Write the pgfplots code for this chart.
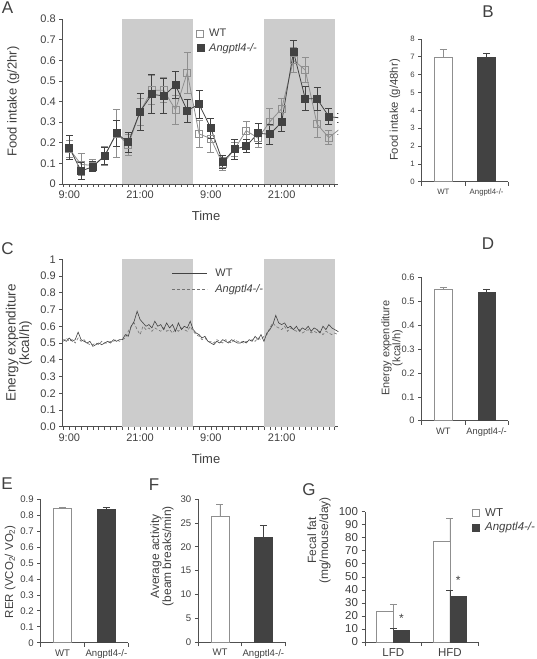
\documentclass[border=0pt]{standalone}
\usepackage{fontspec}
\setmainfont{Liberation Sans}
\usepackage{pgfplots}
\pgfplotsset{compat=1.18}
\definecolor{txt}{HTML}{404040}
\definecolor{band}{HTML}{CCCCCC}
\definecolor{ko}{HTML}{424242}
\definecolor{wt}{HTML}{8F8F8F}
\definecolor{axc}{HTML}{505050}
\newcommand{\fs}[1]{\fontsize{#1}{#1}\selectfont}
\pgfplotsset{
  base/.style={
    scale only axis, anchor=south west,
    axis x line*=bottom, axis y line*=left,
    axis line style={axc, line width=0.8pt, -},
    every tick/.style={axc, line width=0.7pt},
    tick align=outside,
    major tick length=3.5pt, minor tick length=3pt,
    /pgf/number format/assume math mode=true,
    /pgf/number format/fixed,
    every tick label/.append style={text=txt},
  },
  timeax/.style={
    xmin=-1.1, xmax=45.6,
    xtick={0,12,24,36}, xticklabels={9:00,21:00,9:00,21:00},
    minor xtick={-1,0,...,45},
    tick label style={font=\fs{11}},
    xlabel={Time},
    every axis x label/.style={at={(axis description cs:0.52,0)}, anchor=center, yshift=-32pt, font=\fs{13}, text=txt},
  },
  barax/.style={
    xmin=-0.5, xmax=1.5, xtick={0,1},
    major x tick style={draw=none},
    minor xtick={-0.5,0.5,1.5}, minor tick length=4pt,
    ymin=0,
  },
  wtbar/.style={ybar, bar width=#1, fill=white, draw=wt, line width=0.8pt,
    error bars/y dir=plus, error bars/y explicit, error bars/error bar style={wt, line width=0.8pt},
    error bars/error mark options={rotate=90, wt, mark size=3.5pt, line width=0.8pt}},
  kobar/.style={ybar, bar width=#1, fill=ko, draw=ko, line width=0.8pt,
    error bars/y dir=plus, error bars/y explicit, error bars/error bar style={ko, line width=0.8pt},
    error bars/error mark options={rotate=90, ko, mark size=3.5pt, line width=0.8pt}},
}
\begin{document}
\begin{tikzpicture}
\useasboundingbox (0pt,0pt) rectangle (536pt,659pt);
% panel letters
\node[font=\fs{17}, text=txt] at (7.5pt,651.5pt) {A};
\node[font=\fs{17}, text=txt] at (488pt,647pt) {B};
\node[font=\fs{17}, text=txt] at (7.5pt,410pt) {C};
\node[font=\fs{17}, text=txt] at (488pt,415pt) {D};
\node[font=\fs{17}, text=txt] at (7pt,175pt) {E};
\node[font=\fs{17}, text=txt] at (154pt,174pt) {F};
\node[font=\fs{17}, text=txt] at (309pt,169pt) {G};

% ---------------- A ----------------
\begin{axis}[base, timeax, at={(62.8pt,475pt)}, width=275.5pt, height=165pt,
  ymin=0, ymax=0.8, ytick={0,0.1,0.2,0.3,0.4,0.5,0.6,0.7,0.8},
  ylabel={Food intake (g/2hr)},
  every axis y label/.style={at={(axis description cs:-0.18,0.5)}, rotate=90, anchor=center, font=\fs{13}, text=txt},
  legend style={at={(0.4835,0.952)}, anchor=north west, draw=none, fill=none, font=\fs{11}, text=txt, inner sep=0pt, row sep=1pt, cells={anchor=west}},
  legend image code/.code={\draw[#1] plot coordinates {(4pt,0pt)}; \path[draw=none, fill=none] (0pt,0pt) -- (11pt,0pt);},
]
\addplot[draw=none, fill=band, forget plot] coordinates {(9,0.8) (21,0.8)} \closedcycle;
\addplot[draw=none, fill=band, forget plot] coordinates {(33,0.8) (45,0.8)} \closedcycle;
\addplot[wt, line width=0.8pt, mark=square, mark size=3.5pt, mark options={solid, draw=wt, fill=none}, forget plot,
  error bars/y dir=both, error bars/y explicit, error bars/error bar style={wt, line width=0.8pt},
  error bars/error mark options={rotate=90, wt, mark size=3.5pt, line width=0.8pt}]
coordinates {
(0,0.17) +- (0,0.04)
(2,0.095) +- (0,0.055)
(4,0.09) +- (0,0.03)
(6,0.135) +- (0,0.045)
(8,0.245) +- (0,0.115)
(10,0.19) +- (0,0.05)
(12,0.35) +- (0,0.065)
(14,0.455) +- (0,0.07)
(16,0.455) +- (0,0.06)
(18,0.36) +- (0,0.07)
(20,0.54) +- (0,0.1)
(22,0.243) +- (0,0.065)
(24,0.22) +- (0,0.065)
(26,0.097) +- (0,0.03)
(28,0.168) +- (0,0.035)
(30,0.259) +- (0,0.045)
(32,0.222) +- (0,0.045)
(34,0.302) +- (0,0.065)
(36,0.365) +- (0,0.05)
(38,0.60) +- (0,0.06)
(40,0.553) +- (0,0.06)
(42,0.29) +- (0,0.065)
(44,0.225) +- (0,0.035)
(46,0.27) +- (0,0.03)
};
\addplot[ko, line width=0.8pt, mark=square*, mark size=3.5pt, mark options={solid, draw=ko, fill=ko}, forget plot,
  error bars/y dir=both, error bars/y explicit, error bars/error bar style={ko, line width=0.8pt},
  error bars/error mark options={rotate=90, ko, mark size=3.5pt, line width=0.8pt}]
coordinates {
(0,0.176) +- (0,0.058)
(2,0.063) +- (0,0.04)
(4,0.084) +- (0,0.025)
(6,0.137) +- (0,0.04)
(8,0.246) +- (0,0.062)
(10,0.202) +- (0,0.05)
(12,0.351) +- (0,0.09)
(14,0.435) +- (0,0.095)
(16,0.427) +- (0,0.085)
(18,0.48) +- (0,0.065)
(20,0.356) +- (0,0.055)
(22,0.387) +- (0,0.068)
(24,0.27) +- (0,0.048)
(26,0.108) +- (0,0.03)
(28,0.168) +- (0,0.05)
(30,0.184) +- (0,0.03)
(32,0.246) +- (0,0.05)
(34,0.241) +- (0,0.048)
(36,0.30) +- (0,0.045)
(38,0.642) +- (0,0.055)
(40,0.413) +- (0,0.058)
(42,0.413) +- (0,0.055)
(44,0.327) +- (0,0.04)
(46,0.32) +- (0,0.02)
};
\addlegendimage{only marks, mark=square, mark size=3.5pt, draw=wt, line width=0.8pt}
\addlegendentry{WT}
\addlegendimage{only marks, mark=square*, mark size=3.5pt, draw=ko, fill=ko}
\addlegendentry{\textit{Angptl4-/-}}
\end{axis}

% ---------------- B ----------------
\begin{axis}[base, barax, at={(421.7pt,477.3pt)}, width=86.6pt, height=142.7pt,
  ymax=8, ytick={0,1,...,8},
  xticklabels={WT,Angptl4-/-},
  tick label style={font=\fs{7.8}},
  ylabel={Food intake (g/48hr)},
  every axis y label/.style={at={(axis description cs:-0.308,0.502)}, rotate=90, anchor=center, font=\fs{11.3}, text=txt},
]
\addplot[bar shift=0pt, wtbar=18pt] coordinates {(0,6.97) +- (0,0.42)};
\addplot[bar shift=0pt, kobar=18pt] coordinates {(1,6.97) +- (0,0.25)};
\end{axis}

% ---------------- C ----------------
\begin{axis}[base, timeax, at={(62.8pt,232.3pt)}, width=275.5pt, height=167.4pt,
  ymin=0, ymax=1, ytick={0,0.1,0.2,0.3,0.4,0.5,0.6,0.7,0.8,0.9,1},
  yticklabels={0.0,0.1,0.2,0.3,0.4,0.5,0.6,0.7,0.8,0.9,1},
  ylabel={Energy expenditure\\(kcal/h)},
  every axis y label/.style={at={(axis description cs:-0.159,0.5)}, rotate=90, anchor=center, align=center, font=\fs{13.5}, text=txt},
  legend style={at={(0.396,0.954)}, anchor=north west, draw=none, fill=none, font=\fs{11}, text=txt, inner sep=0pt, row sep=2pt, cells={anchor=west}},
  legend image code/.code={\draw[#1] (0pt,0pt) -- (35pt,0pt); \path[draw=none, fill=none] (0pt,0pt) -- (41pt,0pt);},
]
\addplot[draw=none, fill=band, forget plot] coordinates {(9,1) (21,1)} \closedcycle;
\addplot[draw=none, fill=band, forget plot] coordinates {(33,1) (45,1)} \closedcycle;
\addplot[wt!80!black, line width=0.6pt, dash pattern=on 3pt off 2pt, forget plot] coordinates {
(-1,0.51) (-0.5,0.53) (0,0.51) (0.5,0.52) (1,0.50) (1.5,0.53) (2,0.51) (2.5,0.52) (3,0.50) (3.5,0.49)
(4,0.49) (4.5,0.50) (5,0.49) (5.5,0.51) (6,0.50) (6.5,0.50) (7,0.51) (7.5,0.51) (8,0.52) (8.5,0.51)
(9,0.52) (9.5,0.53) (10,0.57) (10.5,0.60) (11,0.62) (11.5,0.58) (12,0.55) (12.5,0.60) (13,0.58) (13.5,0.59)
(14,0.57) (14.5,0.59) (15,0.58) (15.5,0.57) (16,0.59) (16.5,0.57) (17,0.58) (17.5,0.56) (18,0.58) (18.5,0.57)
(19,0.59) (19.5,0.58) (20,0.57) (20.5,0.60) (21,0.57) (21.5,0.55) (22,0.54) (22.5,0.52) (23,0.53) (23.5,0.51)
(24,0.51) (24.5,0.50) (25,0.52) (25.5,0.51) (26,0.50) (26.5,0.52) (27,0.51) (27.5,0.50) (28,0.52) (28.5,0.51)
(29,0.51) (29.5,0.50) (30,0.51) (30.5,0.51) (31,0.52) (31.5,0.51) (32,0.53) (32.5,0.52) (33,0.54) (33.5,0.55)
(34,0.59) (34.5,0.62) (35,0.60) (35.5,0.59) (36,0.58) (36.5,0.60) (37,0.57) (37.5,0.59) (38,0.58) (38.5,0.57)
(39,0.58) (39.5,0.56) (40,0.57) (40.5,0.58) (41,0.56) (41.5,0.57) (42,0.56) (42.5,0.57) (43,0.55) (43.5,0.57)
(44,0.56) (44.5,0.55) (45,0.56) (45.5,0.55) (46,0.55)
};
\addplot[ko, line width=0.6pt, forget plot] coordinates {
(-1,0.52) (-0.5,0.51) (0,0.53) (0.5,0.51) (1,0.52) (1.5,0.565) (2,0.52) (2.5,0.51) (3,0.50) (3.5,0.51)
(4,0.48) (4.5,0.49) (5,0.50) (5.5,0.49) (6,0.50) (6.5,0.51) (7,0.50) (7.5,0.52) (8,0.51) (8.5,0.52)
(9,0.52) (9.5,0.55) (10,0.54) (10.5,0.60) (11,0.63) (11.5,0.69) (12,0.64) (12.5,0.62) (13,0.60) (13.5,0.61)
(14,0.59) (14.5,0.63) (15,0.60) (15.5,0.61) (16,0.58) (16.5,0.62) (17,0.59) (17.5,0.61) (18,0.57) (18.5,0.62)
(19,0.58) (19.5,0.60) (20,0.59) (20.5,0.63) (21,0.58) (21.5,0.56) (22,0.55) (22.5,0.53) (23,0.54) (23.5,0.51)
(24,0.50) (24.5,0.49) (25,0.51) (25.5,0.50) (26,0.52) (26.5,0.51) (27,0.50) (27.5,0.52) (28,0.51) (28.5,0.50)
(29,0.50) (29.5,0.51) (30,0.50) (30.5,0.52) (31,0.51) (31.5,0.54) (32,0.52) (32.5,0.55) (33,0.51) (33.5,0.56)
(34,0.58) (34.5,0.61) (35,0.665) (35.5,0.62) (36,0.61) (36.5,0.62) (37,0.59) (37.5,0.60) (38,0.58) (38.5,0.60)
(39,0.57) (39.5,0.59) (40,0.58) (40.5,0.60) (41,0.57) (41.5,0.59) (42,0.58) (42.5,0.56) (43,0.60) (43.5,0.58)
(44,0.61) (44.5,0.59) (45,0.58) (45.5,0.57) (46,0.56)
};
\addlegendimage{ko, line width=0.6pt}
\addlegendentry{WT}
\addlegendimage{wt!80!black, line width=0.6pt, dash pattern=on 3pt off 2pt}
\addlegendentry{\textit{Angptl4-/-}}
\end{axis}

% ---------------- D ----------------
\begin{axis}[base, barax, at={(421.7pt,238.3pt)}, width=86.6pt, height=143pt,
  ymax=0.6, ytick={0,0.1,0.2,0.3,0.4,0.5,0.6},
  xticklabels={WT,Angptl4-/-},
  tick label style={font=\fs{9.3}},
  ylabel={Energy expenditure\\(kcal/h)},
  every axis y label/.style={at={(axis description cs:-0.343,0.508)}, rotate=90, anchor=center, align=center, font=\fs{11}, text=txt},
]
\addplot[bar shift=0pt, wtbar=17.5pt] coordinates {(0,0.549) +- (0,0.011)};
\addplot[bar shift=0pt, kobar=17.5pt] coordinates {(1,0.539) +- (0,0.014)};
\end{axis}

% ---------------- E ----------------
\begin{axis}[base, barax, at={(40.7pt,16.3pt)}, width=87.6pt, height=143.4pt,
  ymax=0.9, ytick={0,0.1,0.2,0.3,0.4,0.5,0.6,0.7,0.8,0.9},
  xticklabels={WT,Angptl4-/-},
  tick label style={font=\fs{9.6}},
  ylabel={RER (VCO\textsubscript{2}/ VO\textsubscript{2})},
  every axis y label/.style={at={(axis description cs:-0.35,0.495)}, rotate=90, anchor=center, font=\fs{11.5}, text=txt},
]
\addplot[bar shift=0pt, wtbar=17.5pt] coordinates {(0,0.844) +- (0,0.008)};
\addplot[bar shift=0pt, kobar=17.5pt] coordinates {(1,0.834) +- (0,0.015)};
\end{axis}

% ---------------- F ----------------
\begin{axis}[base, barax, at={(198.3pt,16.7pt)}, width=86.7pt, height=143.3pt,
  ymax=30, ytick={0,5,...,30},
  xticklabels={WT,Angptl4-/-},
  tick label style={font=\fs{9.6}},
  ylabel={Average activity\\(beam breaks/min)},
  every axis y label/.style={at={(axis description cs:-0.419,0.6)}, rotate=90, anchor=center, align=center, font=\fs{12}, text=txt},
]
\addplot[bar shift=0pt, wtbar=18pt] coordinates {(0,26.3) +- (0,2.6)};
\addplot[bar shift=0pt, kobar=18pt] coordinates {(1,22.0) +- (0,2.4)};
\end{axis}

% ---------------- G ----------------
\begin{axis}[base, barax, at={(365pt,17pt)}, width=113.3pt, height=130.3pt,
  ymax=100, ytick={0,10,...,100},
  xticklabels={LFD,HFD},
  tick label style={font=\fs{11.5}},
  ylabel={Fecal fat\\(mg/mouse/day)},
  every axis y label/.style={at={(axis description cs:-0.406,0.78)}, rotate=90, anchor=center, align=center, font=\fs{12}, text=txt},
  legend style={at={(0.944,1.044)}, anchor=north west, draw=none, fill=none, font=\fs{11.5}, text=txt, inner sep=0pt, row sep=1pt, cells={anchor=west}},
  legend image code/.code={\draw[#1] plot coordinates {(4pt,0pt)}; \path[draw=none, fill=none] (0pt,0pt) -- (11pt,0pt);},
]
\addplot[bar shift=-8.25pt, forget plot, wtbar=16.5pt] coordinates {(0,23.3) +- (0,5.6) (1,77.3) +- (0,17.7)};
\addplot[bar shift=8.25pt, forget plot, kobar=16.5pt] coordinates {(0,9.0) +- (0,1.5) (1,34.8) +- (0,5.1)};
\addlegendimage{only marks, mark=square, mark size=3.5pt, draw=wt, line width=0.8pt}
\addlegendentry{WT}
\addlegendimage{only marks, mark=square*, mark size=3.5pt, draw=ko, fill=ko}
\addlegendentry{\textit{Angptl4-/-}}
\node[font=\fs{12}, text=txt, inner sep=0pt, xshift=8.25pt] at (axis cs:0,18) {*};
\node[font=\fs{12}, text=txt, inner sep=0pt, xshift=8.25pt] at (axis cs:1,47) {*};
\end{axis}
\end{tikzpicture}
\end{document}
